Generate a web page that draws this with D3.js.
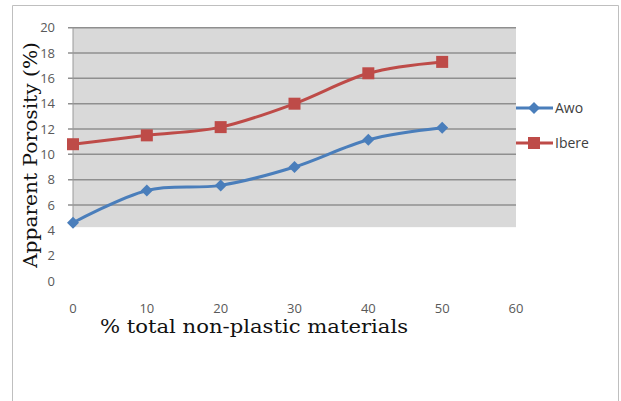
<!DOCTYPE html>
<html><head><meta charset="utf-8">
<script src="https://cdn.jsdelivr.net/npm/d3@7"></script>
<style>body{margin:0;background:#fff}svg{display:block}</style>
</head><body>
<svg id="c" width="621" height="401"></svg>
<script>
const xValues = [0, 10, 20, 30, 40, 50];
const awo = [4.6, 7.15, 7.55, 9.0, 11.15, 12.1];
const ibere = [10.8, 11.5, 12.15, 14.0, 16.4, 17.3];
const seriesNames = ["Awo", "Ibere"];
const xTicks = [0, 10, 20, 30, 40, 50, 60];
const yTicks = [0, 2, 4, 6, 8, 10, 12, 14, 16, 18, 20];

const svg = d3.select("#c");
const x = d3.scaleLinear().domain([0, 60]).range([73, 516]);
const y = d3.scaleLinear().domain([0, 20]).range([281, 27.7]);

// outer border
svg.append("path").attr("d", "M12.5,405 V5.5 H618.5 V405")
  .attr("fill", "none").attr("stroke", "#bfbfbf").attr("stroke-width", 1);

// plot background (gray band)
svg.append("rect").attr("x", x(0)).attr("y", y(20)).attr("width", x(60) - x(0))
  .attr("height", y(4.25) - y(20)).attr("fill", "#d9d9d9");

// gridlines
const gridVals = yTicks.filter(v => v >= 6);
svg.append("g").selectAll("line").data(gridVals).join("line")
  .attr("x1", 68).attr("x2", x(60)).attr("y1", d => y(d)).attr("y2", d => y(d))
  .attr("stroke", "#8f8f8f").attr("stroke-width", 1.5);
// y axis line
svg.append("line").attr("x1", x(0)).attr("x2", x(0)).attr("y1", y(20)).attr("y2", y(4.25))
  .attr("stroke", "#9a9a9a").attr("stroke-width", 1);

// tick labels
svg.append("g").selectAll("text").data(yTicks).join("text")
  .attr("x", 55).attr("y", d => y(d)).attr("dy", "0.35em").attr("text-anchor", "end")
  .attr("font-family", "'Open Sans', 'DejaVu Sans', sans-serif").attr("font-size", 13)
  .attr("fill", "#595959").text(d => d);
svg.append("g").selectAll("text").data(xTicks).join("text")
  .attr("x", d => x(d)).attr("y", 308).attr("dy", "0.35em").attr("text-anchor", "middle")
  .attr("font-family", "'Open Sans', 'DejaVu Sans', sans-serif").attr("font-size", 13)
  .attr("fill", "#595959").text(d => d);

// axis titles
svg.append("text").attr("x", 254).attr("y", 333).attr("text-anchor", "middle")
  .attr("font-family", "'DejaVu Serif', serif").attr("font-size", 18).attr("fill", "#111")
  .attr("textLength", 308).attr("lengthAdjust", "spacingAndGlyphs")
  .text("% total non-plastic materials");
svg.append("text").attr("transform", "translate(37,155) rotate(-90)").attr("text-anchor", "middle")
  .attr("font-family", "'DejaVu Serif', serif").attr("font-size", 18).attr("fill", "#111")
  .attr("textLength", 226).attr("lengthAdjust", "spacingAndGlyphs")
  .text("Apparent Porosity (%)");

const colors = ["#4A7EBB", "#BE4B48"];
const data = [awo, ibere];
const line = d3.line().x((d, i) => x(xValues[i])).y(d => y(d)).curve(d3.curveCatmullRom.alpha(0));

data.forEach((vals, k) => {
  svg.append("path").attr("d", line(vals)).attr("fill", "none")
    .attr("stroke", colors[k]).attr("stroke-width", 3).attr("stroke-linejoin", "round");
});

function marker(g, k, cx, cy) {
  if (k === 0) {
    g.append("path").attr("d", `M${cx},${cy-6} L${cx+6},${cy} L${cx},${cy+6} L${cx-6},${cy} Z`)
      .attr("fill", colors[k]);
  } else {
    g.append("rect").attr("x", cx - 6).attr("y", cy - 6).attr("width", 12).attr("height", 12)
      .attr("fill", colors[k]);
  }
}
const mg = svg.append("g");
data.forEach((vals, k) => vals.forEach((v, i) => marker(mg, k, x(xValues[i]), y(v))));

// legend
const legY = [108, 143];
seriesNames.forEach((name, k) => {
  svg.append("line").attr("x1", 516).attr("x2", 553).attr("y1", legY[k]).attr("y2", legY[k])
    .attr("stroke", colors[k]).attr("stroke-width", 3);
  marker(svg, k, 534, legY[k]);
  svg.append("text").attr("x", 555).attr("y", legY[k]).attr("dy", "0.35em")
    .attr("font-family", "'Open Sans', 'DejaVu Sans', sans-serif").attr("font-size", 14)
    .attr("fill", "#404040").text(name);
});
</script>
</body></html>
